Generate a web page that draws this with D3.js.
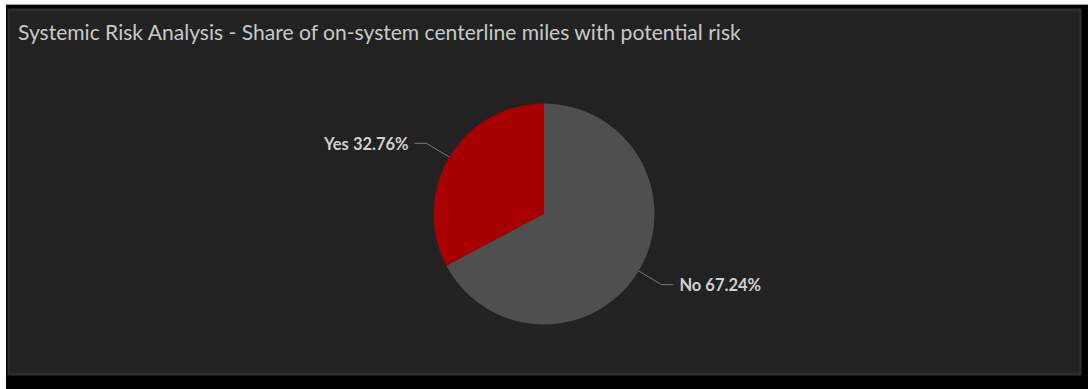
<!DOCTYPE html>
<html>
<head>
<meta charset="utf-8">
<script src="https://cdn.jsdelivr.net/npm/d3@7"></script>
<style>
  html, body { margin: 0; padding: 0; background: #ffffff; }
  svg { display: block; }
</style>
</head>
<body>
<svg id="chart" width="1088" height="389"></svg>
<script>
const title = "Systemic Risk Analysis - Share of on-system centerline miles with potential risk";
const categories = ["Yes", "No"];
const shares = [32.76, 67.24];
const sliceColors = ["#a80000", "#4f4f4f"];

const W = 1088, H = 389;
const svg = d3.select("#chart");

// outer black frame with faint top line
svg.append("rect").attr("x", 6).attr("y", 4).attr("width", W - 6).attr("height", H - 4).attr("fill", "#000");
svg.append("line").attr("x1", 6).attr("x2", W).attr("y1", 4.5).attr("y2", 4.5).attr("stroke", "#9a9a9a").attr("stroke-width", 1);

// panel
svg.append("rect").attr("x", 8.5).attr("y", 9.5).attr("width", 1072).attr("height", 365)
  .attr("fill", "#222222").attr("stroke", "#303030").attr("stroke-width", 2);

// title
const t = svg.append("text").attr("x", 18).attr("y", 40)
  .attr("fill", "#c9c9c9").attr("font-family", "Lato, 'Open Sans', sans-serif")
  .attr("font-size", 19).text(title);
const targetW = 723;
const tw = t.node().getComputedTextLength();
t.attr("font-size", 19 * targetW / tw);

// pie
const cx = 544, cy = 214, r = 110.5;
const data = categories.map((c, i) => ({ cat: c, value: shares[i], color: sliceColors[i] }));
const pie = d3.pie().value(d => d.value).sort(null).startAngle(0).endAngle(-2 * Math.PI);
const arcs = pie(data);
const arc = d3.arc().innerRadius(0).outerRadius(r);
const g = svg.append("g").attr("transform", `translate(${cx},${cy})`);
g.selectAll("path").data(arcs).join("path")
  .attr("d", arc).attr("fill", d => d.data.color);

// labels with leader lines
const rOut = 137, hLen = 12, gap = 6;
arcs.forEach(a => {
  const mid = (a.startAngle + a.endAngle) / 2;
  const sx = Math.sin(mid), sy = -Math.cos(mid);
  const p0 = [r * sx, r * sy];
  const p1 = [rOut * sx, rOut * sy];
  const dir = sx < 0 ? -1 : 1;
  const p2 = [p1[0] + dir * hLen, p1[1]];
  g.append("polyline")
    .attr("points", [p0, p1, p2].map(p => p.join(",")).join(" "))
    .attr("fill", "none").attr("stroke", "#7a7a7a").attr("stroke-width", 1);
  g.append("text")
    .attr("x", p2[0] + dir * gap).attr("y", p2[1])
    .attr("dy", "0.4em")
    .attr("text-anchor", dir < 0 ? "end" : "start")
    .attr("fill", "#cfcfcf")
    .attr("font-family", "Lato, 'Open Sans', sans-serif")
    .attr("font-weight", 700)
    .attr("font-size", 16.5)
    .text(`${a.data.cat} ${a.data.value.toFixed(2)}%`);
});
</script>
</body>
</html>
